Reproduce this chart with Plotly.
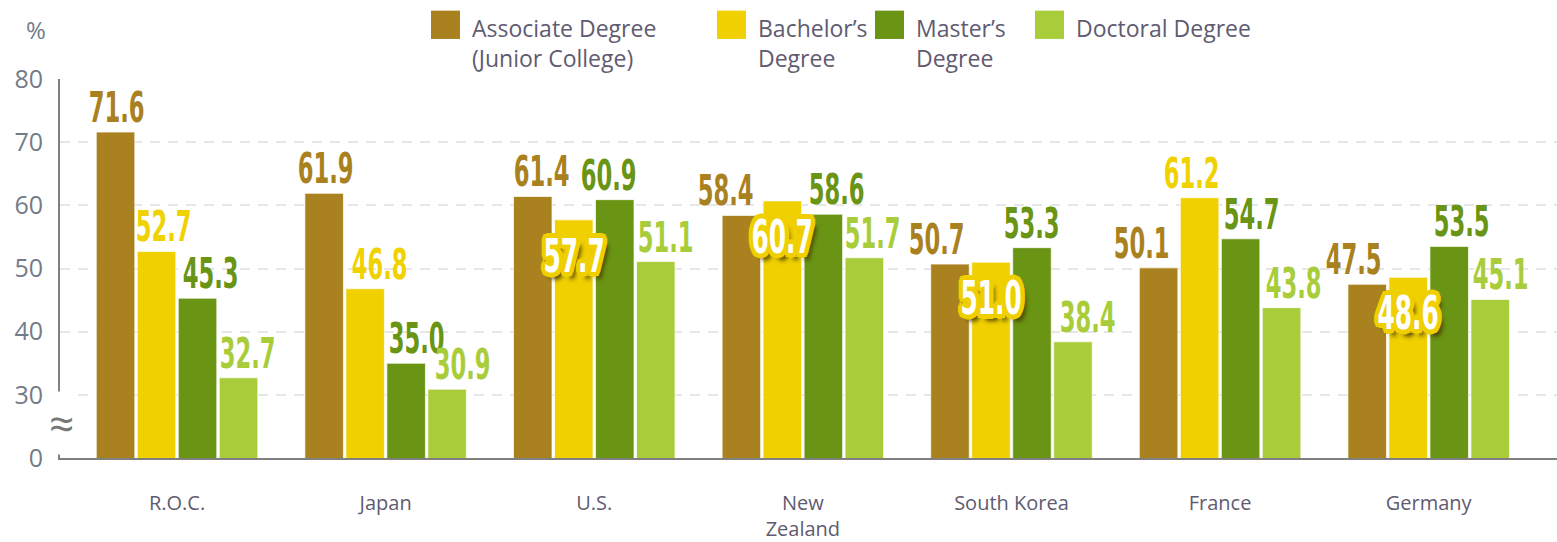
import plotly.graph_objects as go

# ---------------- data ----------------
countries = ["R.O.C.", "Japan", "U.S.", "New<br>Zealand", "South Korea", "France", "Germany"]
series_names = ["Associate Degree<br>(Junior College)", "Bachelor\u2019s<br>Degree",
                "Master\u2019s<br>Degree", "Doctoral Degree"]
associate = [71.6, 61.9, 61.4, 58.4, 50.7, 50.1, 47.5]
bachelor = [52.7, 46.8, 57.7, 60.7, 51.0, 61.2, 48.6]
master = [45.3, 35.0, 60.9, 58.6, 53.3, 54.7, 53.5]
doctoral = [32.7, 30.9, 51.1, 51.7, 38.4, 43.8, 45.1]
y_tick_vals = [20, 30, 40, 50, 60, 70, 80]
y_tick_text = ["0", "30", "40", "50", "60", "70", "80"]

# ---------------- style ----------------
W, H = 1557, 542
ML, MR, MT, MB = 60, 0, 79, 75
colors = ["#A9811F", "#F0D000", "#6A9413", "#A9CD3A"]
label_colors = ["#A9811F", "#F0D200", "#6A9413", "#A9CD3A"]
BARGAP = 0.214
BARGROUPGAP = 0.06
X_RANGE = [-0.561, 6.615]
Y_RANGE = [20, 80]
# per-label horizontal nudges (px), style only
label_dx = [
    [1, 1, 9, -16, -13, -17, -14],
    [7, 14, 0, 0, 0, -8, 0],
    [13, 10, -6, 13, 0, 11, 12],
    [9, 15, 10, 8, 15, 12, 10],
]
# bachelor labels drawn inside the bar (white with yellow outline)
inside_label = [False, False, True, True, True, False, True]

LABEL_FONT = "DejaVu Sans Condensed, DejaVu Sans, sans-serif"
LABEL_SIZE = 42
INSIDE_SIZE = 46
TEXT_FONT = "Open Sans, Noto Sans, sans-serif"
TEXT_COLOR = "#5f5b70"
TICK_COLOR = "#737b8a"
Y_OUT = "#EFCF00"

all_series = [associate, bachelor, master, doctoral]
xs = list(range(len(countries)))

fig = go.Figure()
for name, vals, col in zip(series_names, all_series, colors):
    fig.add_trace(go.Bar(
        x=xs, y=vals, name=name.replace("<br>", " "),
        marker=dict(color=col, line=dict(color="rgba(255,255,255,0.7)", width=1)),
        showlegend=False,
    ))

slot = (1 - BARGAP) / 4
annotations = []
outline = ", ".join(f"{dx}px {dy}px 0 {Y_OUT}" for dx, dy in
                    [(6, 0), (-6, 0), (0, 4), (0, -4), (5, 2), (-5, -2), (5, -2), (-5, 2),
                     (4, 3), (-4, 3), (4, -3), (-4, -3)])
shadow = outline + ", 7px 6px 5px rgba(60,50,0,0.85)"
for j, vals in enumerate(all_series):
    for i, v in enumerate(vals):
        xpos = i + (j - 1.5) * slot
        if j == 1 and inside_label[i]:
            annotations.append(dict(
                x=xpos, y=v, xref="x", yref="y", text=f"{v:.1f}",
                showarrow=False, yanchor="middle", xanchor="center", yshift=-36,
                font=dict(family=LABEL_FONT, size=INSIDE_SIZE, color="white", weight="bold",
                          shadow=shadow),
            ))
        else:
            annotations.append(dict(
                x=xpos, y=v, xref="x", yref="y", text=f"{v:.1f}",
                showarrow=False, yanchor="bottom", xanchor="center", yshift=-2,
                xshift=label_dx[j][i],
                font=dict(family=LABEL_FONT, size=LABEL_SIZE, color=label_colors[j], weight="bold"),
            ))

# axis break symbol
annotations.append(dict(x=0, y=25.5, xref="paper", yref="y", text="\u2248", showarrow=False,
                        xanchor="center", yanchor="middle", bgcolor="white", xshift=1,
                        font=dict(family=TEXT_FONT, size=44, color="#777777")))
pw, ph = W - ML - MR, H - MT - MB
def px2paper(px, py):
    return (px - ML) / pw, (H - MB - py) / ph

pxp, pyp = px2paper(36, 28)
annotations.append(dict(x=pxp, y=pyp, xref="paper", yref="paper", text="%", showarrow=False,
                        xanchor="center", yanchor="middle",
                        font=dict(family=TEXT_FONT, size=24, color=TICK_COLOR)))

# manual legend (large swatches)
legend_pos = [431, 717, 875, 1035]
shapes = []
for name, col, lx in zip(series_names, colors, legend_pos):
    x0, y0 = px2paper(lx, 38)
    x1, y1 = px2paper(lx + 29, 9)
    shapes.append(dict(type="rect", xref="paper", yref="paper", x0=x0, y0=y0, x1=x1, y1=y1,
                       fillcolor=col, line=dict(width=0)))
    tx, ty = px2paper(lx + 39, 8)
    annotations.append(dict(x=tx, y=ty, xref="paper", yref="paper", text=name, showarrow=False,
                            xanchor="left", yanchor="top", align="left",
                            font=dict(family=TEXT_FONT, size=23, color=TEXT_COLOR)))

fig.update_layout(
    width=W, height=H,
    margin=dict(l=ML, r=MR, t=MT, b=MB, pad=0),
    paper_bgcolor="white", plot_bgcolor="white",
    barmode="group", bargap=BARGAP, bargroupgap=BARGROUPGAP,
    showlegend=False,
    annotations=annotations, shapes=shapes,
    xaxis=dict(range=X_RANGE, tickmode="array", tickvals=xs, ticktext=countries,
               showgrid=False, zeroline=False, showline=True, linecolor="#808080", linewidth=2,
               ticks="", ticklabelstandoff=26,
               tickfont=dict(family=TEXT_FONT, size=20, color=TEXT_COLOR)),
    yaxis=dict(range=Y_RANGE, tickmode="array", tickvals=y_tick_vals, ticktext=y_tick_text,
               showgrid=True, gridcolor="#e6e6e6", gridwidth=1.5, griddash="10px,8px",
               zeroline=False, showline=True, linecolor="#808080", linewidth=2,
               ticks="", ticklabelstandoff=10,
               tickfont=dict(family=TEXT_FONT, size=25, color=TICK_COLOR)),
)

post = """
document.body.style.margin='0';
document.body.style.overflow='hidden';
document.querySelectorAll('text.annotation-text').forEach(function(t){
  if(/^\\d+\\.\\d$/.test(t.textContent.trim())){
    t.style.transformBox='fill-box';
    t.style.transformOrigin='center';
    t.style.transform='scaleX(0.6)';
  }
});
"""
fig.write_html("out.html", post_script=post, config={"displayModeBar": False})
